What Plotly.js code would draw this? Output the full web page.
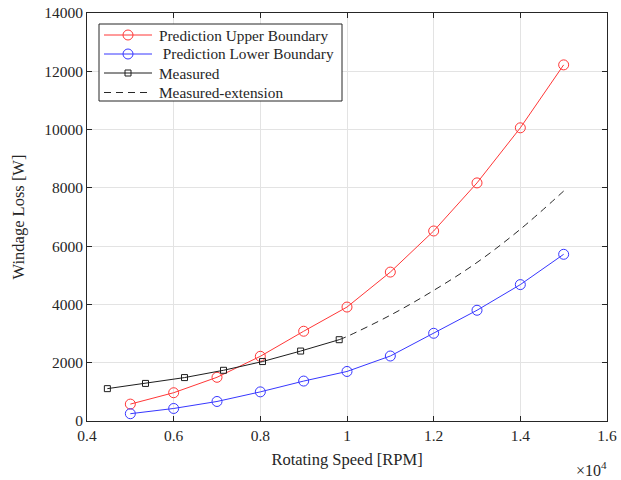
<!DOCTYPE html>
<html><head><meta charset="utf-8">
<script src="https://cdn.plot.ly/plotly-3.0.1.min.js"></script>
<style>html,body{margin:0;padding:0;background:#fff}#chart{width:621px;height:480px}</style>
</head><body><div id="chart"></div>
<script>
const predSpeed = [5000, 6000, 7000, 8000, 9000, 10000, 11000, 12000, 13000, 14000, 15000];
const upperLoss = [580, 970, 1500, 2220, 3080, 3910, 5110, 6520, 8170, 10060, 12220];
const lowerLoss = [250, 430, 670, 1000, 1370, 1700, 2230, 3010, 3800, 4680, 5720];
const measSpeed = [4470, 5350, 6250, 7150, 8050, 8930, 9820];
const measLoss = [1110, 1290, 1490, 1740, 2040, 2400, 2790];
const extSpeed = [9820, 10000, 11000, 12000, 13000, 14000, 15000];
const extLoss = [2790, 2900, 3630, 4480, 5440, 6580, 7890];
const xTickVals = [4000, 6000, 8000, 10000, 12000, 14000, 16000];
const xTickText = ['0.4', '0.6', '0.8', '1', '1.2', '1.4', '1.6'];
const yTickVals = [0, 2000, 4000, 6000, 8000, 10000, 12000, 14000];
const yTickText = ['0', '2000', '4000', '6000', '8000', '10000', '12000', '14000'];
const seriesNames = ['Prediction Upper Boundary', ' Prediction Lower Boundary', 'Measured', 'Measured-extension'];

const red = 'rgb(255,55,55)', blue = 'rgb(55,55,255)', blk = 'rgb(30,30,30)';
const lineDash = '7px,5px';
const traces = [
  {x: predSpeed, y: upperLoss, name: seriesNames[0], mode: 'lines+markers',
   line: {color: red, width: 1}, marker: {symbol: 'circle-open', size: 10, color: red, line: {width: 1}}},
  {x: predSpeed, y: lowerLoss, name: seriesNames[1], mode: 'lines+markers',
   line: {color: blue, width: 1}, marker: {symbol: 'circle-open', size: 10, color: blue, line: {width: 1}}},
  {x: measSpeed, y: measLoss, name: seriesNames[2], mode: 'lines+markers',
   line: {color: blk, width: 1}, marker: {symbol: 'square-open', size: 6, color: blk, line: {width: 1}}},
  {x: extSpeed, y: extLoss, name: seriesNames[3], mode: 'lines',
   line: {color: 'rgb(40,40,40)', width: 1, dash: lineDash, shape: 'spline'}}
];
const font = {family: '"Liberation Serif", "Times New Roman", serif', color: '#262626'};

// Manual legend (MATLAB-like compact spacing)
const W = 520, H = 408, L = 87, T = 13;
const px = x => (x - L) / W, py = y => 1 - (y - T) / H;
const box = {x0: 99, x1: 342, y0: 24, y1: 101};
const rowY = [35, 54, 73, 92.5];
const textX = [156.5, 156.5, 156.5, 156.5];
const shapes = [{type: 'rect', xref: 'paper', yref: 'paper', x0: px(box.x0), x1: px(box.x1),
  y0: py(box.y1), y1: py(box.y0), fillcolor: '#fff', line: {color: '#262626', width: 1}, layer: 'above'}];
const annotations = [];
const legStyle = [
  {color: red, marker: 'circle', dash: 'solid'},
  {color: blue, marker: 'circle', dash: 'solid'},
  {color: blk, marker: 'square', dash: 'solid'},
  {color: 'rgb(40,40,40)', marker: null, dash: lineDash}
];
legStyle.forEach((s, i) => {
  shapes.push({type: 'line', xref: 'paper', yref: 'paper', x0: px(104), x1: px(152), y0: py(rowY[i]), y1: py(rowY[i]),
    line: {color: s.color, width: 1, dash: s.dash}, layer: 'above'});
  if (s.marker === 'circle') {
    shapes.push({type: 'circle', xref: 'paper', yref: 'paper', xsizemode: 'pixel', ysizemode: 'pixel',
      xanchor: px(128), yanchor: py(rowY[i]), x0: -5, x1: 5, y0: -5, y1: 5,
      fillcolor: 'rgba(0,0,0,0)', line: {color: s.color, width: 1}, layer: 'above'});
  } else if (s.marker === 'square') {
    shapes.push({type: 'rect', xref: 'paper', yref: 'paper', xsizemode: 'pixel', ysizemode: 'pixel',
      xanchor: px(128), yanchor: py(rowY[i]), x0: -3, x1: 3, y0: -3, y1: 3,
      fillcolor: 'rgba(0,0,0,0)', line: {color: s.color, width: 1}, layer: 'above'});
  }
  annotations.push({xref: 'paper', yref: 'paper', x: px(textX[i]), y: py(rowY[i]), xanchor: 'left', yanchor: 'middle',
    text: seriesNames[i].replace(/^ /, '&nbsp;'), showarrow: false, font: Object.assign({size: 15.3}, font)});
});
annotations.push({xref: 'paper', yref: 'paper', x: px(609), y: py(469), xanchor: 'right', yanchor: 'middle',
  text: '×10<sup>4</sup>', showarrow: false, font: Object.assign({size: 16}, font)});

const layout = {
  width: 621, height: 480,
  margin: {l: 87, r: 14, t: 13, b: 59},
  paper_bgcolor: '#fff', plot_bgcolor: '#fff',
  font: Object.assign({size: 15}, font),
  showlegend: false,
  xaxis: {range: [4000, 16000], tickvals: xTickVals, ticktext: xTickText,
    showgrid: true, gridcolor: '#e3e3e3', zeroline: false, showline: true, linecolor: '#262626',
    linewidth: 1, mirror: 'ticks', ticks: 'inside', ticklen: 5, tickcolor: '#262626',
    tickfont: Object.assign({size: 15.5}, font),
    title: {text: 'Rotating Speed [RPM]', font: Object.assign({size: 16.5}, font), standoff: 10}},
  yaxis: {range: [0, 14000], tickvals: yTickVals, ticktext: yTickText,
    showgrid: true, gridcolor: '#e3e3e3', zeroline: false, showline: true, linecolor: '#262626',
    linewidth: 1, mirror: 'ticks', ticks: 'inside', ticklen: 5, tickcolor: '#262626',
    tickfont: Object.assign({size: 15.5}, font),
    title: {text: 'Windage Loss [W]', font: Object.assign({size: 16.5}, font), standoff: 15}},
  shapes: shapes,
  annotations: annotations
};
Plotly.newPlot('chart', traces, layout, {displayModeBar: false, staticPlot: true});
</script></body></html>
